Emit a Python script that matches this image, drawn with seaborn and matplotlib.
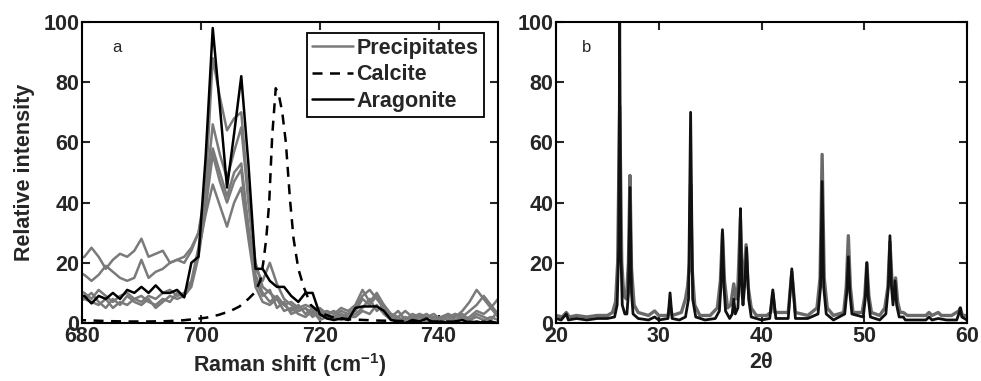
import numpy as np
import pandas as pd
import matplotlib
matplotlib.use("Agg")
import matplotlib.pyplot as plt
import seaborn as sns

# ---------------- Data: Raman (panel a) ----------------
raman_x = [679.2, 680.4, 681.6, 682.8, 684.0, 685.2, 686.4, 687.6, 688.8, 690.0,
           691.2, 692.4, 693.6, 694.8, 696.0, 697.2, 698.4, 699.6, 700.8, 702.0,
           703.2, 704.4, 705.6, 706.8, 708.0, 709.2, 710.4, 711.6, 712.8, 714.0,
           715.2, 716.4, 717.6, 718.8, 720.0, 721.2, 722.4, 723.6, 724.8, 726.0,
           727.2, 728.4, 729.6, 730.8, 732.0, 733.2, 734.4, 735.6, 736.8, 738.0,
           739.2, 740.4, 741.6, 742.8, 744.0, 745.2, 746.4, 747.6, 748.8, 750.0]

aragonite = [9, 9, 6.5, 9, 8, 10, 8, 11, 10, 12, 10, 12.5, 10, 10, 11, 8.5, 20, 22, 55, 98,
             72, 45, 63, 82, 53, 18, 18, 14, 12, 12, 9, 7, 10, 10, 3, 1.5, 1, 1.5, 1, 5,
             5.5, 5.5, 5.5, 4, 1, 0.5, 0, 1, 0.5, 1.5, 0, 0.5, 0, 0.5, 1, 0, 0.5, 0, 0.5, 0]

precip_1 = [21, 22, 25, 22, 18, 21, 23, 22, 24, 28, 22, 23, 24, 20, 21, 22, 25, 30, 45, 88,
            75, 64, 68, 70, 42, 20, 12, 10, 8, 6, 7, 5, 6, 5, 3, 4, 3, 5, 4, 6,
            11, 7, 10, 6, 3, 2, 4, 2, 3, 2, 2, 1, 3, 2, 4, 7, 11, 8, 5, 8]
precip_2 = [17, 16, 14, 16, 19, 17, 15, 14, 15, 21, 15, 17, 18, 20, 21, 20, 24, 30, 42, 66,
            56, 48, 57, 65, 40, 18, 14, 20, 13, 8, 6, 4, 5, 3, 5, 3, 2, 4, 3, 5,
            9, 11, 8, 5, 2, 4, 1, 3, 2, 3, 1, 2, 3, 1, 2, 4, 6, 9, 6, 3]
precip_3 = [11, 10, 8, 11, 9, 7, 9, 10, 8, 7, 9, 8, 10, 11, 9, 10, 14, 25, 40, 58,
            50, 42, 50, 53, 32, 16, 10, 7, 9, 6, 4, 6, 3, 5, 2, 3, 4, 2, 3, 4,
            8, 6, 9, 4, 3, 1, 2, 1, 2, 0, 2, 1, 2, 3, 1, 2, 4, 3, 5, 2]
precip_4 = [7, 8, 10, 7, 5, 8, 6, 9, 7, 6, 8, 5, 7, 9, 8, 9, 12, 22, 38, 56,
            47, 40, 47, 51, 30, 14, 9, 11, 5, 7, 3, 4, 5, 2, 4, 2, 1, 3, 2, 3,
            5, 8, 4, 6, 2, 0, 1, 2, 1, 2, 3, 1, 0, 2, 3, 1, 3, 2, 1, 4]
precip_5 = [9, 8, 7, 6, 8, 5, 7, 6, 8, 9, 7, 6, 8, 7, 10, 9, 13, 24, 36, 46,
            39, 32, 40, 45, 28, 12, 7, 6, 8, 4, 5, 3, 2, 4, 1, 2, 2, 1, 2, 2,
            4, 3, 6, 3, 1, 2, 0, 1, 3, 1, 0, 2, 1, 3, 2, 1, 2, 1, 2, 1]
precipitates = [precip_1, precip_2, precip_3, precip_4, precip_5]

calcite_x = [679, 682, 685, 688, 691, 694, 697, 699, 701, 703, 705, 706.5, 708, 709,
             710, 710.5, 711, 711.5, 712, 712.6, 713.1, 713.7, 714.3, 715, 715.6,
             716.4, 717.3, 718.5, 720, 722, 725, 730, 735, 740, 745, 750]
calcite_y = [1, 0.8, 0.6, 0.5, 0.5, 0.6, 0.9, 1.3, 1.8, 2.7, 4, 5.5, 8, 10,
             14, 20, 28, 40, 62, 78, 76, 70, 60, 41, 28,
             18, 12, 6, 3.5, 2, 1.2, 0.8, 0.6, 0.5, 0.4, 0.4]

# ---------------- Data: XRD (panel b) ----------------
xrd_black_x = [20.0, 20.5, 21.0, 21.2, 22, 23, 24, 25, 25.7, 25.95, 26.1, 26.2, 26.3, 26.45,
               26.7, 26.9, 27.05, 27.2, 27.35, 27.5, 28, 29, 29.6, 30, 30.9, 31.1, 31.3,
               32, 32.6, 32.9, 33.1, 33.3, 33.6, 34.5, 35.5, 35.9, 36.05, 36.2, 36.35, 36.5,
               36.9, 37.15, 37.3, 37.45, 37.7, 37.85, 37.95, 38.1, 38.2, 38.35, 38.55, 38.75,
               39, 40, 40.8, 41.1, 41.4, 42.6, 42.95, 43.3, 44.5, 45.5, 45.75, 45.9, 46.05,
               46.3, 47, 48.1, 48.3, 48.45, 48.6, 48.8, 49.9, 50.1, 50.25, 50.4, 50.6, 51.5,
               52.1, 52.35, 52.5, 52.65, 52.8, 53.0, 53.15, 53.4, 53.8, 54, 55, 56, 56.3,
               56.6, 57.2, 58, 59, 59.2, 59.35, 59.5, 60]
xrd_black_y = [1.5, 1, 3, 1, 1.5, 1, 1.5, 1.5, 2, 6, 25, 100, 25, 6,
               3, 3, 10, 45, 10, 3, 1.5, 1, 2, 1, 1.5, 10, 1.5,
               1, 2, 8, 70, 8, 2, 1, 1.5, 4, 12, 31, 12, 4,
               1.5, 3, 8, 3, 5, 15, 38, 10, 6, 12, 25, 8,
               2, 1, 1.5, 11, 1.5, 1.5, 18, 1.5, 1.5, 3, 12, 47, 12,
               3, 1, 3, 10, 22, 10, 3, 2, 8, 20, 8, 2, 1,
               3, 12, 29, 12, 6, 14, 6, 2, 2, 1, 1, 1, 2,
               1, 1.5, 1, 1, 3, 5, 2, 1]

xrd_gray_x = [20.0, 20.6, 21.0, 21.3, 22, 23, 24, 25, 25.5, 25.8, 26.0, 26.2, 26.4, 26.6,
              26.85, 27.05, 27.2, 27.35, 27.6, 28, 29, 29.6, 30, 30.9, 31.1, 31.3, 32.2,
              32.6, 32.8, 33.0, 33.1, 33.25, 33.5, 34, 35, 35.7, 36.0, 36.2, 36.4, 36.7,
              37.0, 37.3, 37.5, 37.7, 37.95, 38.15, 38.3, 38.5, 38.7, 39.0, 39.5, 40.5,
              40.9, 41.1, 41.3, 42.6, 42.95, 43.3, 44.5, 45.4, 45.7, 45.9, 46.1, 46.4, 47,
              48.0, 48.25, 48.45, 48.65, 48.9, 49.8, 50.05, 50.25, 50.45, 50.7, 51.5, 52.0,
              52.3, 52.5, 52.7, 52.85, 53.05, 53.25, 53.5, 53.8, 54.2, 55, 56, 56.3, 56.6,
              57.2, 57.5, 58.5, 59.2, 59.35, 59.55, 60]
xrd_gray_y = [2.5, 2, 3.5, 2, 2.5, 2, 2.5, 2.5, 3.5, 7, 20, 72, 20, 9,
              8, 20, 49, 18, 6, 3.5, 2.5, 4, 2.5, 2.5, 6, 2.5, 3.5,
              8, 12, 20, 46, 18, 6, 2.5, 2.5, 5, 14, 30, 14, 5,
              6, 13, 8, 12, 35, 12, 14, 26, 12, 5, 2.5, 2.5,
              3.5, 10, 3.5, 3.5, 17, 3.5, 2.5, 5, 15, 56, 15, 5, 2.5,
              3.5, 12, 29, 12, 3.5, 3.5, 9, 20, 9, 3.5, 2.5, 5,
              12, 27, 14, 10, 15, 7, 3.5, 3.5, 2.5, 2.5, 2.5, 3.5, 2.5,
              3.5, 2.5, 2.5, 4, 5, 2.5, 2.5]

legend_labels = ["Precipitates", "Calcite", "Aragonite"]

# ---------------- Style ----------------
sns.set_style("ticks")
plt.rcParams["font.family"] = ["Liberation Sans", "DejaVu Sans"]
plt.rcParams["mathtext.fontset"] = "custom"
plt.rcParams["mathtext.rm"] = "Liberation Sans"
plt.rcParams["mathtext.bf"] = "Liberation Sans:bold"

GRAY = "#7a7a7a"
FS = 15.5

fig = plt.figure(figsize=(9.81, 3.81), dpi=100)
ax1 = fig.add_axes([82 / 981, 1 - 323 / 381, (498 - 82) / 981, (323 - 22) / 381])
ax2 = fig.add_axes([556 / 981, 1 - 323 / 381, (967 - 556) / 981, (323 - 22) / 381])

# Panel a
for i, p in enumerate(precipitates):
    sns.lineplot(x=raman_x, y=p, ax=ax1, color=GRAY, lw=1.8, estimator=None, sort=False,
                 label=legend_labels[0] if i == 0 else None, legend=False)
sns.lineplot(x=calcite_x, y=calcite_y, ax=ax1, color="black", lw=1.8, linestyle=(0, (4, 3)),
             estimator=None, sort=False, label=legend_labels[1], legend=False)
sns.lineplot(x=raman_x, y=aragonite, ax=ax1, color="black", lw=1.8, estimator=None,
             sort=False, label=legend_labels[2], legend=False)

ax1.set_xlim(680, 750)
ax1.set_ylim(0, 100)
ax1.set_xticks([680, 700, 720, 740])
ax1.set_yticks([0, 20, 40, 60, 80, 100])
ax1.set_xlabel(r"Raman shift (cm$^{\mathbf{-1}}$)", fontsize=FS, fontweight="bold", labelpad=3)
ax1.set_ylabel("Relative intensity", fontsize=FS, fontweight="bold", labelpad=6)
ax1.text(0.085, 0.915, "a", transform=ax1.transAxes, fontsize=12, ha="center", va="center")

handles, labels = ax1.get_legend_handles_labels()
leg = ax1.legend(handles, labels, loc="upper right", bbox_to_anchor=(0.966, 0.965),
                 fancybox=False, frameon=True, edgecolor="black", framealpha=1,
                 prop={"weight": "bold", "size": FS}, handlelength=1.9, handletextpad=0.15,
                 labelspacing=0.25, borderpad=0.25, borderaxespad=0)
leg.get_frame().set_linewidth(1.3)

# Panel b
sns.lineplot(x=xrd_gray_x, y=xrd_gray_y, ax=ax2, color="#6a6a6a", lw=2.4, estimator=None, sort=False)
sns.lineplot(x=xrd_black_x, y=xrd_black_y, ax=ax2, color="#111111", lw=2.0, estimator=None, sort=False)
ax2.set_xlim(20, 60)
ax2.set_ylim(0, 100)
ax2.set_xticks([20, 30, 40, 50, 60])
ax2.set_yticks([0, 20, 40, 60, 80, 100])
ax2.set_xlabel("2θ", fontsize=FS, fontweight="bold", labelpad=4)
ax2.text(0.075, 0.915, "b", transform=ax2.transAxes, fontsize=12, ha="center", va="center")

for ax in (ax1, ax2):
    for s in ax.spines.values():
        s.set_visible(True)
        s.set_linewidth(1.5)
        s.set_color("black")
    ax.tick_params(direction="in", length=6, width=1.5, top=True, right=True,
                   labelsize=FS, pad=2)
    for lab in ax.get_xticklabels() + ax.get_yticklabels():
        lab.set_fontweight("bold")

fig.savefig("out.png", dpi=100)
